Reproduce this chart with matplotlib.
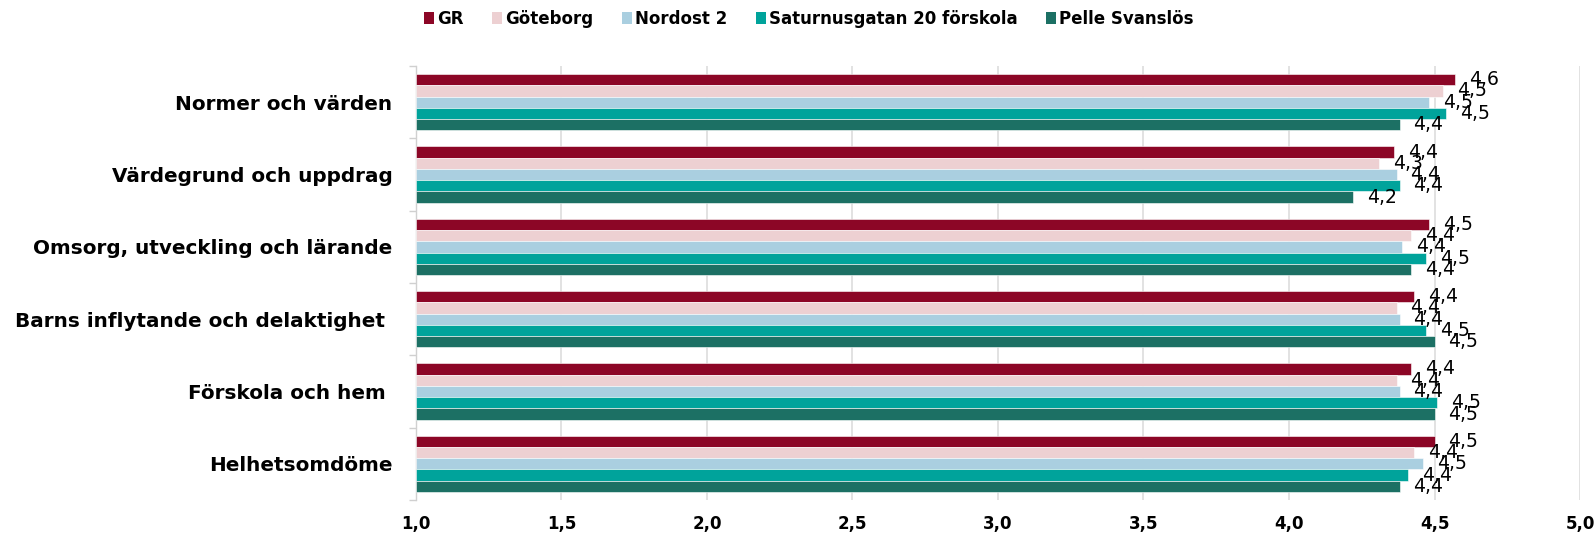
import matplotlib
matplotlib.use("Agg")
import matplotlib.pyplot as plt
import numpy as np
from matplotlib.patches import Patch

KATEGORIER = [
    "Normer och värden",
    "Värdegrund och uppdrag",
    "Omsorg, utveckling och lärande",
    "Barns inflytande och delaktighet ",
    "Förskola och hem ",
    "Helhetsomdöme",
]

SERIER = ["GR", "Göteborg", "Nordost 2", "Saturnusgatan 20 förskola", "Pelle Svanslös"]
FARGER = ["#8C0626", "#EDD0D2", "#AACFE0", "#00A39B", "#1C7064"]

GR = [4.57, 4.36, 4.48, 4.43, 4.42, 4.50]
GOTEBORG = [4.53, 4.31, 4.42, 4.37, 4.37, 4.43]
NORDOST = [4.48, 4.37, 4.39, 4.38, 4.38, 4.46]
SATURNUS = [4.54, 4.38, 4.47, 4.47, 4.51, 4.41]
PELLE = [4.38, 4.22, 4.42, 4.50, 4.50, 4.38]

XTICKS = [1.0, 1.5, 2.0, 2.5, 3.0, 3.5, 4.0, 4.5, 5.0]

plt.rcParams["font.family"] = ["DejaVu Sans"]

fig = plt.figure(figsize=(15.95, 5.33), dpi=100)
ax = fig.add_axes([0.2608, 0.0619, 0.7298, 0.8141])

y = np.arange(len(KATEGORIER))
hojd = 0.156
varden = [GR, GOTEBORG, NORDOST, SATURNUS, PELLE]

for i, (serie, farg, v) in enumerate(zip(SERIER, FARGER, varden)):
    pos = y - 2 * hojd + i * hojd
    ax.barh(pos, np.array(v) - 1.0, left=1.0, height=hojd, color=farg,
            edgecolor="white", linewidth=0.4, zorder=3)
    for p, val in zip(pos, v):
        ax.annotate(f"{val:.1f}".replace(".", ","), (val, p), xytext=(10, 0),
                    textcoords="offset points", ha="left", va="center",
                    fontsize=13.5, color="black", zorder=4)

ax.set_xlim(1.0, 5.0)
ax.set_ylim(len(KATEGORIER) - 0.5, -0.5)
ax.set_xticks(XTICKS)
ax.set_xticklabels([f"{t:.1f}".replace(".", ",") for t in XTICKS],
                   fontsize=12, fontweight="bold")
ax.tick_params(axis="x", length=0, pad=11)

ax.set_yticks(y)
ax.set_yticklabels(KATEGORIER, fontsize=14.4, fontweight="bold")
ax.set_yticks(np.arange(-0.5, len(KATEGORIER)), minor=True)
ax.tick_params(axis="y", which="major", length=0, pad=17)
ax.tick_params(axis="y", which="minor", length=5, color="#D0D0D0", width=1)

ax.grid(axis="x", color="#DDDDDD", linewidth=1.2, zorder=0)
for s in ["top", "right", "bottom"]:
    ax.spines[s].set_visible(False)
ax.spines["left"].set_color("#D0D0D0")
ax.spines["left"].set_linewidth(1)

handles = [Patch(facecolor=f, edgecolor="none", label=s) for s, f in zip(SERIER, FARGER)]
fig.legend(handles=handles, loc="upper center", bbox_to_anchor=(0.507, 1.01), ncol=5,
           frameon=False, prop={"size": 12, "weight": "bold"}, handlelength=0.6,
           handleheight=0.7, handletextpad=0.2, columnspacing=1.7)

plt.savefig("out.png", dpi=100)
